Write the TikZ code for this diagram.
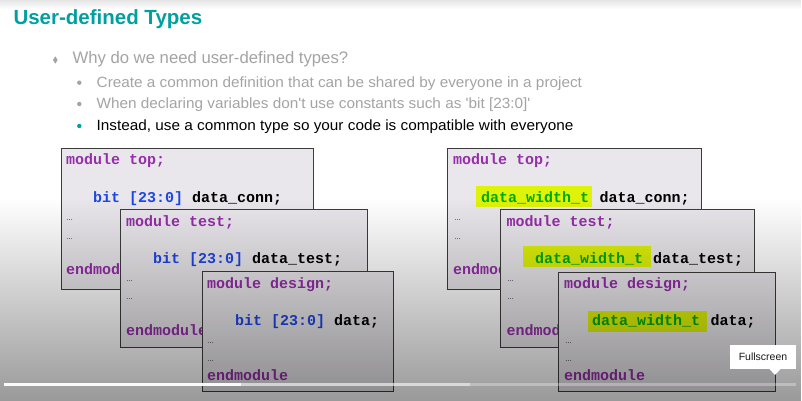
\documentclass[tikz,border=0pt]{standalone}
\usepackage{fontspec}
\setmainfont{Liberation Sans}
\newfontfamily\codefont{Liberation Mono}
\newfontfamily\subfont[FakeStretch=1.035]{Liberation Sans}
\usetikzlibrary{fadings}
\definecolor{teal1}{RGB}{0,160,160}
\definecolor{graytxt}{RGB}{164,164,164}
\definecolor{boxfill}{RGB}{233,231,235}
\definecolor{boxline}{RGB}{60,60,60}
\definecolor{kwpurple}{RGB}{150,45,170}
\definecolor{kwblue}{RGB}{30,70,230}
\definecolor{tygreen}{RGB}{0,170,0}
\definecolor{hlyellow}{RGB}{222,242,10}
\tikzset{
  txt/.style={anchor=base west, inner sep=0pt, outer sep=0pt},
  subtxt/.style={txt, font=\subfont\fontsize{14.8}{14.8}\selectfont},
  code/.style={txt, font=\codefont\bfseries\fontsize{15}{15}\selectfont},
  kw/.style={code, text=kwpurple},
  ell/.style={txt, font=\fontsize{7}{7}\selectfont, text=black},
  codebox/.style={draw=boxline, fill=boxfill, line width=1.4pt, anchor=north west, inner sep=0pt},
  hl/.style={fill=hlyellow},
}
\begin{document}
\begin{tikzpicture}[x=1pt,y=1pt]
\useasboundingbox (0,0) rectangle (802,-401);
\fill[white] (0,0) rectangle (802,-401);
\fill[black, opacity=0.1, path fading=south] (0,0) rectangle (802,-9);

% title and bullets
\node[txt, font=\bfseries\fontsize{20.5}{20.5}\selectfont, text=teal1] (title) at (13.5,-25) {User-defined Types};
\fill[graytxt] (55.3,-56.3) -- (57.6,-60) -- (55.3,-63.7) -- (53,-60) -- cycle;
\node[txt, font=\fontsize{16.7}{16.7}\selectfont, text=graytxt] (b1) at (72.5,-64) {Why do we need user-defined types?};
\fill[graytxt] (79.3,-82.7) circle (2.2);
\node[subtxt, text=graytxt] (b2) at (96.7,-87.7) {Create a common definition that can be shared by everyone in a project};
\fill[graytxt] (79.3,-104) circle (2.2);
\node[subtxt, text=graytxt] (b3) at (96.7,-108.4) {When declaring variables don't use constants such as 'bit [23:0]'};
\fill[teal1] (79.3,-126) circle (2.2);
\node[subtxt, text=black] (b4) at (96.7,-130) {Instead, use a common type so your code is compatible with everyone};

% ---------- left stack ----------
\node[codebox, minimum width=252pt, minimum height=141pt] (l1) at (61,-148) {};
\node[kw] (l1a) at (66,-164.5) {module top;};
\node[code] (l1b) at (93,-202) {\textcolor{kwblue}{bit [23:0]} data\_conn;};
\node[ell] (l1c) at (66,-220.5) {…};
\node[ell] (l1d) at (66,-239) {…};
\begin{scope}
\clip (61,-260) rectangle (120,-290);
\node[kw] (l1e) at (66,-274.5) {endmodule};
\end{scope}

\node[codebox, minimum width=247pt, minimum height=138pt] (l2) at (120,-209) {};
\node[kw] (l2a) at (126,-226) {module test;};
\node[code] (l2b) at (153,-263) {\textcolor{kwblue}{bit [23:0]} data\_test;};
\node[ell] (l2c) at (126,-281) {…};
\node[ell] (l2d) at (126,-299) {…};
\begin{scope}
\clip (120,-320) rectangle (202,-350);
\node[kw] (l2e) at (126,-335) {endmodule};
\end{scope}

\node[codebox, minimum width=191pt, minimum height=120pt] (l3) at (202,-271) {};
\node[kw] (l3a) at (207,-288.5) {module design;};
\node[code] (l3b) at (235,-325) {\textcolor{kwblue}{bit [23:0]} data;};
\node[ell] (l3c) at (207,-343) {…};
\node[ell] (l3d) at (207,-361.5) {…};
\node[kw] (l3e) at (207,-380) {endmodule};

% ---------- right stack ----------
\node[codebox, minimum width=254pt, minimum height=141pt] (r1) at (447,-148) {};
\node[kw] (r1a) at (453,-164.5) {module top;};
\fill[hl] (476,-185.7) rectangle (592,-206.7);
\node[code, text=tygreen] (r1b) at (481,-202) {data\_width\_t};
\node[code] (r1f) at (599.5,-202) {data\_conn;};
\node[ell] (r1c) at (454,-220.5) {…};
\node[ell] (r1d) at (454,-239) {…};
\begin{scope}
\clip (447,-260) rectangle (500,-290);
\node[kw] (r1e) at (453,-274.5) {endmodule};
\end{scope}

\node[codebox, minimum width=254pt, minimum height=138pt] (r2) at (500,-209) {};
\node[kw] (r2a) at (506.5,-226) {module test;};
\fill[hl] (523,-246) rectangle (651,-267.3);
\node[code, text=tygreen] (r2b) at (535,-263) {data\_width\_t};
\node[code] (r2f) at (653,-263) {data\_test;};
\node[ell] (r2c) at (507,-281) {…};
\node[ell] (r2d) at (507,-299) {…};
\begin{scope}
\clip (500,-320) rectangle (558,-350);
\node[kw] (r2e) at (506.5,-335) {endmodule};
\end{scope}

\node[codebox, minimum width=217pt, minimum height=119pt] (r3) at (558,-272) {};
\node[kw] (r3a) at (564,-288.5) {module design;};
\fill[hl] (588,-311) rectangle (707,-332.3);
\node[code, text=tygreen] (r3b) at (592,-325) {data\_width\_t};
\node[code] (r3f) at (710.5,-325) {data;};
\node[ell] (r3c) at (565,-343) {…};
\node[ell] (r3d) at (565,-361.5) {…};
\node[kw] (r3e) at (564,-380) {endmodule};

% ---------- video overlay ----------
\fill[black, opacity=0.4, path fading=north] (0,-198) rectangle (802,-401);

% progress bar
\fill[white, opacity=0.3] (470,-383) rectangle (796,-386.3);
\fill[white, opacity=0.6] (241,-383) rectangle (470,-386.3);
\fill[white, opacity=0.95] (4,-383) rectangle (241,-386.3);

% tooltip
\fill[white] (730,-345) rectangle (796,-369);
\fill[white] (769,-368.5) -- (781,-368.5) -- (775,-375) -- cycle;
\node[font=\fontsize{10.5}{10.5}\selectfont, text=black!90, inner sep=0pt] (fs) at (763,-357) {Fullscreen};
\end{tikzpicture}
\end{document}
